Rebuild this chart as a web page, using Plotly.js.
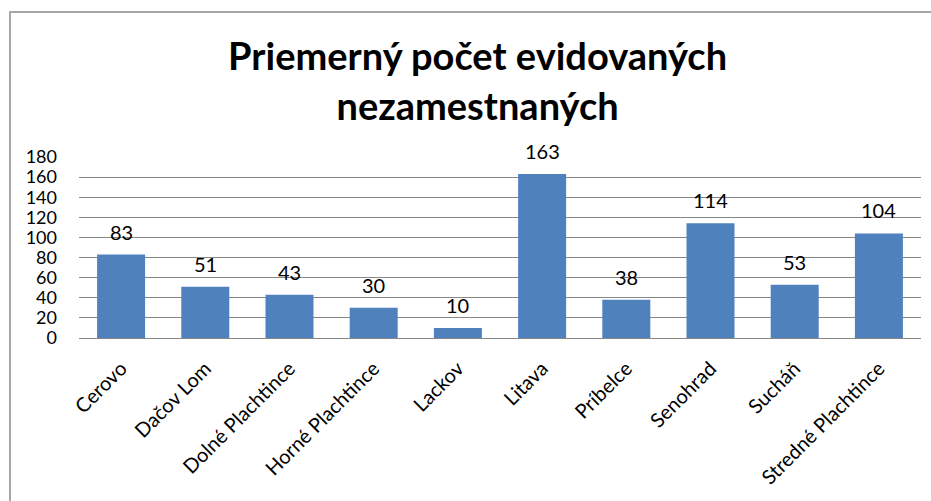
<!DOCTYPE html>
<html>
<head>
<meta charset="utf-8">
<script src="https://cdn.plot.ly/plotly-3.0.1.min.js"></script>
<style>
html,body{margin:0;padding:0;background:#fff;}
#frame{position:absolute;left:9px;top:11px;width:940px;height:510px;border:2px solid #a6a6a6;box-sizing:border-box;}
#chart{position:absolute;left:0;top:0;width:931px;height:501px;}
</style>
</head>
<body>
<div id="frame"></div>
<div id="chart"></div>
<script>
const categories = ["Cerovo","Dačov Lom","Dolné Plachtince","Horné Plachtince","Lackov","Litava","Príbelce","Senohrad","Sucháň","Stredné Plachtince"];
const values = [83, 51, 43, 30, 10, 163, 38, 114, 53, 104];
const yTicks = [0, 20, 40, 60, 80, 100, 120, 140, 160, 180];
const titleText = "Priemerný počet evidovaných<br>nezamestnaných";

const font = "Lato, 'Open Sans', 'Liberation Sans', sans-serif";

const trace = {
  type: "bar",
  x: categories,
  y: values,
  marker: {color: "#4f81bd"},
  width: 0.57,
  hoverinfo: "x+y"
};

const annotations = categories.map((c, i) => ({
  x: c, y: values[i], xref: "x", yref: "y",
  text: String(values[i]), showarrow: false,
  yanchor: "bottom", yshift: 9,
  font: {family: font, size: 20, color: "#000"}
}));

const layout = {
  width: 931, height: 501,
  paper_bgcolor: "rgba(0,0,0,0)",
  plot_bgcolor: "rgba(0,0,0,0)",
  margin: {l: 79, r: 10, t: 157, b: 163},
  showlegend: false,
  title: {
    text: titleText,
    font: {family: font, size: 38, color: "#000", weight: "bold"},
    x: 0.513, xanchor: "center",
    y: 0.86, yanchor: "top"
  },
  xaxis: {
    type: "category",
    tickangle: -45,
    tickfont: {family: font, size: 20, color: "#000"},
    showgrid: false,
    showline: true,
    linecolor: "#868686",
    linewidth: 1,
    ticks: "",
    ticklabelstandoff: 10
  },
  yaxis: {
    range: [0, 180],
    tickvals: yTicks,
    ticktext: yTicks.map(String),
    tickfont: {family: font, size: 18, color: "#000"},
    showgrid: true,
    gridcolor: "#868686",
    gridwidth: 1,
    zeroline: false,
    showline: false,
    ticks: "",
    ticklabelstandoff: 21
  },
  bargap: 0.43,
  annotations: annotations
};

Plotly.newPlot("chart", [trace], layout, {displayModeBar: false, staticPlot: true});
</script>
</body>
</html>
